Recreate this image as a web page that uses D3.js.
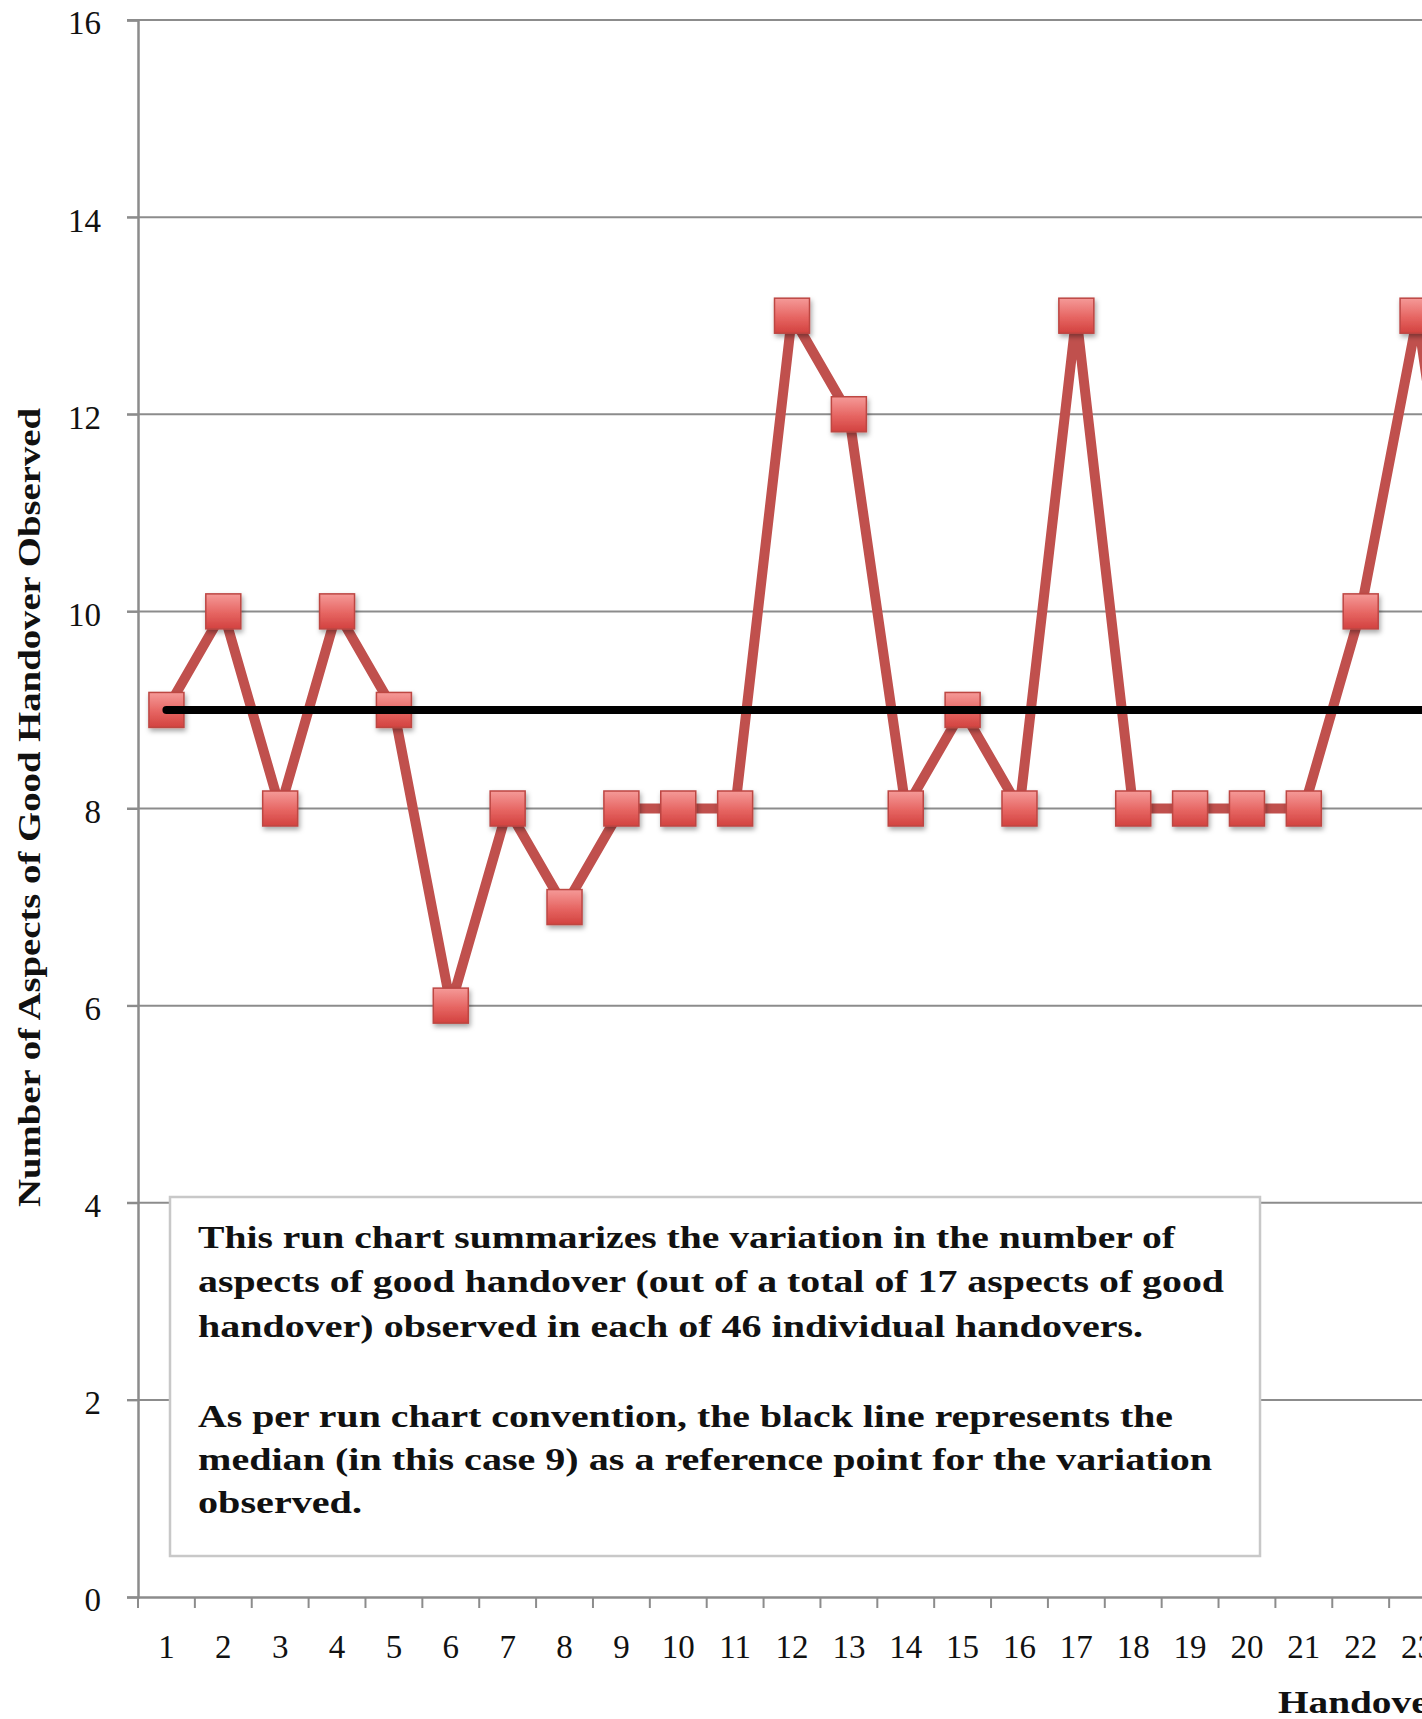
<!DOCTYPE html>
<html>
<head>
<meta charset="utf-8">
<script src="https://cdn.jsdelivr.net/npm/d3@7"></script>
<style>
  html, body { margin: 0; padding: 0; background: #fff; overflow: hidden; }
  svg { display: block; }
  text { font-family: "Liberation Serif", "DejaVu Serif", serif; fill: #111; }
</style>
</head>
<body>
<div id="chart"></div>
<script>
// ---- Data ----
const handoverNumbers = d3.range(1, 47);          // 46 handovers (x categories)
const observedValues = [9, 10, 8, 10, 9, 6, 8, 7, 8, 8, 8, 13, 12, 8, 9, 8, 13, 8, 8, 8, 8, 10, 13, 9]; // visible part
const medianValue = 9;
const yTickValues = [0, 2, 4, 6, 8, 10, 12, 14, 16];
const yAxisTitle = "Number of Aspects of Good Handover Observed";
const xAxisTitle = "Handover";
const noteLines = [
  "This run chart summarizes the variation in the number of",
  "aspects of good handover (out of a total of 17 aspects of good",
  "handover) observed in each of 46 individual handovers.",
  "",
  "As per run chart convention, the black line represents the",
  "median (in this case 9) as a reference point for the variation",
  "observed."
];
const noteLineEnds = [1175, 1224, 1143, null, 1173, 1212, 362];

// ---- Layout ----
const W = 1422, H = 1719;
const x0 = 138, bandW = 56.87;
const yTop = 20, yBottom = 1597;

const svg = d3.select("#chart").append("svg").attr("width", W).attr("height", H);
const defs = svg.append("defs");
const grad = defs.append("linearGradient").attr("id", "mk").attr("x1", 0).attr("y1", 0).attr("x2", 0).attr("y2", 1);
grad.append("stop").attr("offset", "0%").attr("stop-color", "#f59a98");
grad.append("stop").attr("offset", "55%").attr("stop-color", "#e66562");
grad.append("stop").attr("offset", "100%").attr("stop-color", "#d2423f");
const sh = defs.append("filter").attr("id", "shadow").attr("x", "-30%").attr("y", "-30%").attr("width", "170%").attr("height", "170%");
sh.append("feDropShadow").attr("dx", 1.5).attr("dy", 3).attr("stdDeviation", 2.5).attr("flood-color", "#000").attr("flood-opacity", 0.35);

const x = d3.scaleBand().domain(handoverNumbers).range([x0, x0 + bandW * handoverNumbers.length]).padding(0);
const y = d3.scaleLinear().domain([0, 16]).range([yBottom, yTop]);

// Gridlines
svg.append("g").selectAll("line").data(yTickValues.filter(v => v > 0)).join("line")
  .attr("x1", x0 - 11).attr("x2", W + 10)
  .attr("y1", d => y(d)).attr("y2", d => y(d))
  .attr("stroke", "#8c8c8c").attr("stroke-width", 2);

// Y axis
const yAxis = d3.axisLeft(y).tickValues(yTickValues).tickSize(11).tickPadding(26).tickFormat(d3.format("d"));
const gy = svg.append("g").attr("transform", `translate(${x0},0)`).call(yAxis);
gy.select(".domain").attr("stroke", "#8c8c8c").attr("stroke-width", 2.5);
gy.selectAll(".tick line").attr("stroke", "#8c8c8c").attr("stroke-width", 2);
gy.selectAll(".tick text").attr("font-size", 33).attr("font-family", "Liberation Serif, serif").attr("fill", "#111").attr("dy", "0.42em");

// X axis (only categories whose centre is inside the picture get a label)
const visibleTicks = handoverNumbers.filter(d => x(d) + x.bandwidth() / 2 < W);
const xAxis = d3.axisBottom(x).tickValues(visibleTicks).tickSize(0).tickPadding(61);
const gx = svg.append("g").attr("transform", `translate(0,${yBottom})`).call(xAxis);
gx.select(".domain").attr("stroke", "#8c8c8c").attr("stroke-width", 2.5);
gx.selectAll(".tick text").attr("font-size", 33).attr("font-family", "Liberation Serif, serif").attr("fill", "#111").attr("dy", "0");
// boundary tick marks between categories
svg.append("g").selectAll("line").data(handoverNumbers.concat([47])).join("line")
  .attr("x1", d => x0 + (d - 1) * x.bandwidth()).attr("x2", d => x0 + (d - 1) * x.bandwidth())
  .attr("y1", yBottom).attr("y2", yBottom + 11)
  .attr("stroke", "#8c8c8c").attr("stroke-width", 2);

// Axis titles
svg.append("text")
  .attr("transform", `translate(40,807.5) rotate(-90)`)
  .attr("text-anchor", "middle")
  .attr("font-size", 32).attr("font-weight", "bold")
  .attr("textLength", 799).attr("lengthAdjust", "spacingAndGlyphs")
  .text(yAxisTitle);
svg.append("text")
  .attr("x", 1278).attr("y", 1713)
  .attr("font-size", 32).attr("font-weight", "bold")
  .attr("textLength", 168).attr("lengthAdjust", "spacingAndGlyphs")
  .text(xAxisTitle);

// Series line
const cx = d => x(d) + x.bandwidth() / 2;
const seriesData = observedValues.map((v, i) => ({ n: handoverNumbers[i], v }));
svg.append("path").datum(seriesData)
  .attr("d", d3.line().x(d => cx(d.n)).y(d => y(d.v)))
  .attr("fill", "none").attr("stroke", "#c0504d").attr("stroke-width", 10)
  .attr("stroke-linejoin", "miter");

// Markers
const ms = 35;
svg.append("g").selectAll("rect").data(seriesData).join("rect")
  .attr("x", d => cx(d.n) - ms / 2).attr("y", d => y(d.v) - ms / 2)
  .attr("width", ms).attr("height", ms)
  .attr("fill", "url(#mk)").attr("stroke", "#bd4643").attr("stroke-width", 1.5)
  .attr("filter", "url(#shadow)");

// Median line
svg.append("line")
  .attr("x1", cx(1)).attr("x2", W + 20)
  .attr("y1", y(medianValue)).attr("y2", y(medianValue))
  .attr("stroke", "#000").attr("stroke-width", 8).attr("stroke-linecap", "round");

// Note box
svg.append("rect").attr("x", 170).attr("y", 1197).attr("width", 1090).attr("height", 359)
  .attr("fill", "#fff").attr("stroke", "#c8c8c8").attr("stroke-width", 2.5);
const baselines = [1248, 1292, 1337, 1382, 1427, 1470, 1513];
noteLines.forEach((t, i) => {
  if (!t) return;
  svg.append("text").attr("x", 198).attr("y", baselines[i])
    .attr("font-size", 32).attr("font-weight", "bold")
    .attr("textLength", noteLineEnds[i] - 198).attr("lengthAdjust", "spacingAndGlyphs")
    .text(t);
});
</script>
</body>
</html>
